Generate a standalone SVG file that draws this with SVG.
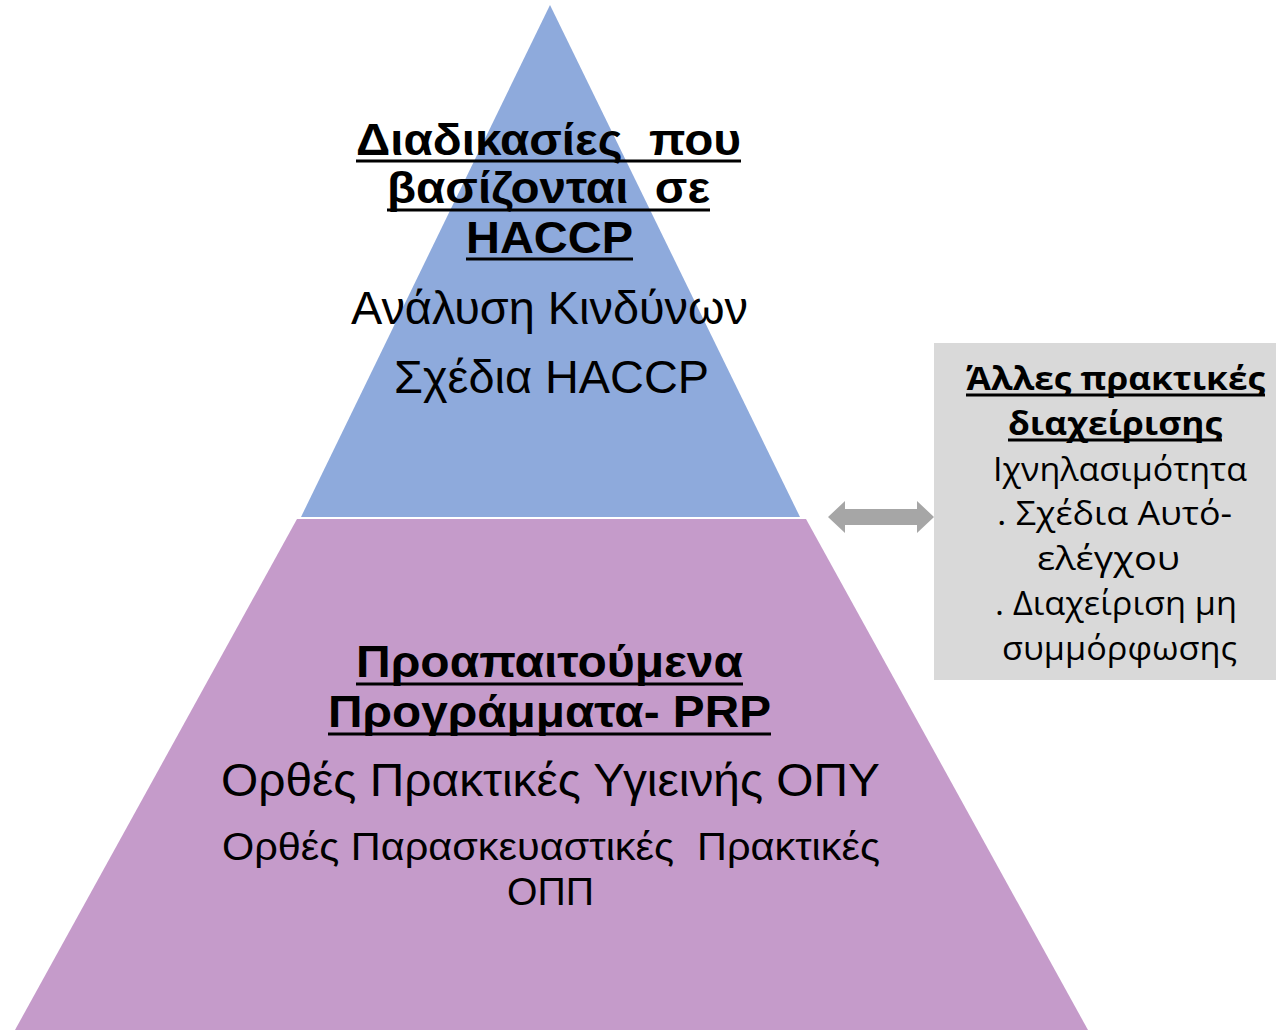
<svg xmlns="http://www.w3.org/2000/svg" width="1276" height="1030" viewBox="0 0 1276 1030">
<style>
text{white-space:pre;}
.t{font-family:"Liberation Sans",Arial,sans-serif;fill:#000;}
.b{font-weight:bold;}
.g{font-family:"Open Sans","Liberation Sans",sans-serif;fill:#000;}
.u{stroke:#000;stroke-width:3;}
</style>
<rect width="1276" height="1030" fill="#fff"/>
<g id="top-tier">
<polygon points="550,5 800,517 301,517" fill="#8eaadc"/>
<text class="t b" x="356" y="155" font-size="44" textLength="385" lengthAdjust="spacingAndGlyphs">Διαδικασίες  που</text>
<line class="u" x1="356" y1="161" x2="741" y2="161"/>
<text class="t b" x="387" y="203" font-size="44" textLength="323" lengthAdjust="spacingAndGlyphs">βασίζονται  σε</text>
<line class="u" x1="387" y1="210" x2="710" y2="210"/>
<text class="t b" x="466" y="253" font-size="44" textLength="167" lengthAdjust="spacingAndGlyphs">HACCP</text>
<line class="u" x1="466" y1="259" x2="633" y2="259"/>
<text class="t" x="351" y="324" font-size="46" textLength="397" lengthAdjust="spacingAndGlyphs">Ανάλυση Κινδύνων</text>
<text class="t" x="394" y="393" font-size="46" textLength="315" lengthAdjust="spacingAndGlyphs">Σχέδια HACCP</text>
</g>
<g id="bottom-tier">
<polygon points="297,519 806,519 1088,1030 15,1030" fill="#c59bca"/>
<text class="t b" x="356" y="677" font-size="45" textLength="387" lengthAdjust="spacingAndGlyphs">Προαπαιτούμενα</text>
<line class="u" x1="356" y1="684" x2="743" y2="684"/>
<text class="t b" x="328" y="727" font-size="45" textLength="443" lengthAdjust="spacingAndGlyphs">Προγράμματα- PRP</text>
<line class="u" x1="328" y1="734" x2="771" y2="734"/>
<text class="t" x="221" y="796" font-size="46" textLength="659" lengthAdjust="spacingAndGlyphs">Ορθές Πρακτικές Υγιεινής ΟΠΥ</text>
<text class="t" x="222" y="860" font-size="39" textLength="658" lengthAdjust="spacingAndGlyphs">Ορθές Παρασκευαστικές  Πρακτικές</text>
<text class="t" x="507" y="905" font-size="39" textLength="87" lengthAdjust="spacingAndGlyphs">ΟΠΠ</text>
</g>
<g id="side-box">
<rect x="934" y="343" width="342" height="337" fill="#d9d9d9"/>
<text class="g b" x="966" y="390" font-size="33" textLength="299" lengthAdjust="spacingAndGlyphs">Άλλες πρακτικές</text>
<line class="u" x1="966" y1="395" x2="1265" y2="395"/>
<text class="g b" x="1008" y="435" font-size="33" textLength="214" lengthAdjust="spacingAndGlyphs">διαχείρισης</text>
<line class="u" x1="1008" y1="440" x2="1222" y2="440"/>
<text class="g" x="993" y="481" font-size="33" textLength="254" lengthAdjust="spacingAndGlyphs">Ιχνηλασιμότητα</text>
<text class="g" x="997" y="525" font-size="33" textLength="235" lengthAdjust="spacingAndGlyphs">. Σχέδια Αυτό-</text>
<text class="g" x="1037" y="570" font-size="33" textLength="143" lengthAdjust="spacingAndGlyphs">ελέγχου</text>
<text class="g" x="995" y="615" font-size="33" textLength="242" lengthAdjust="spacingAndGlyphs">. Διαχείριση μη</text>
<text class="g" x="1002" y="660" font-size="33" textLength="235" lengthAdjust="spacingAndGlyphs">συμμόρφωσης</text>
</g>
<g id="connectors">
<polygon points="828,517 845,501 845,509 917,509 917,501 934,517 917,533 917,525 845,525 845,533" fill="#a6a6a6"/>
</g>
</svg>
